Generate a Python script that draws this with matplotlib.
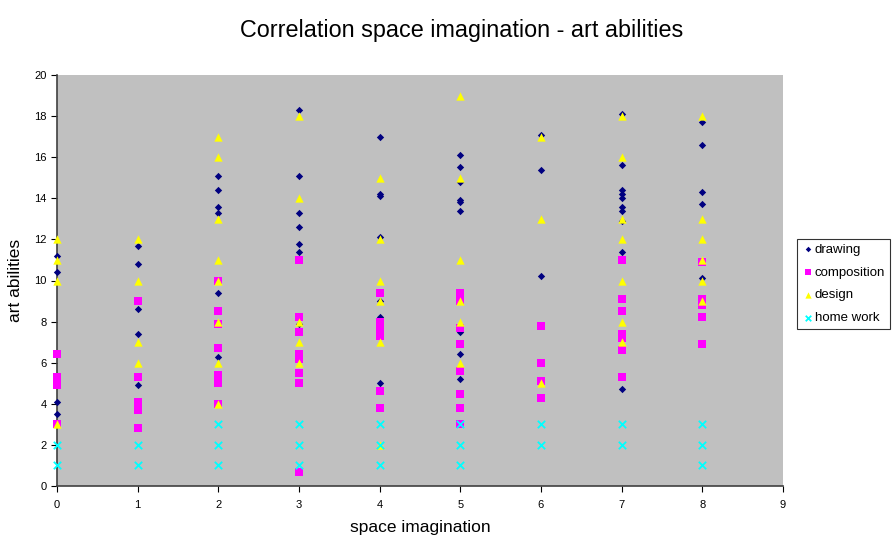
import matplotlib
matplotlib.use("Agg")
import matplotlib.pyplot as plt

plt.rcParams['font.family'] = ['Liberation Sans', 'DejaVu Sans']

# values: (space imagination, art abilities)
drawing_x = [0, 0, 0, 0,
             1, 1, 1, 1, 1,
             2, 2, 2, 2, 2, 2,
             3, 3, 3, 3, 3, 3, 3,
             4, 4, 4, 4, 4, 4, 4,
             5, 5, 5, 5, 5, 5, 5, 5, 5,
             6, 6, 6,
             7, 7, 7, 7, 7, 7, 7, 7, 7, 7,
             8, 8, 8, 8, 8]
drawing_y = [11.2, 10.4, 4.1, 3.5,
             11.7, 10.8, 8.6, 7.4, 4.9,
             15.1, 14.4, 13.6, 13.3, 9.4, 6.3,
             18.3, 15.1, 13.3, 12.6, 11.8, 11.4, 7.9,
             17.0, 14.2, 14.1, 12.1, 9.0, 8.2, 5.0,
             16.1, 15.5, 14.8, 13.9, 13.8, 13.4, 7.5, 6.4, 5.2,
             17.1, 15.4, 10.2,
             18.1, 15.6, 14.4, 14.2, 14.0, 13.6, 13.4, 12.9, 11.4, 4.7,
             17.7, 16.6, 14.3, 13.7, 10.1]

composition_x = [0, 0, 0, 0,
                 1, 1, 1, 1, 1,
                 2, 2, 2, 2, 2, 2, 2, 2,
                 3, 3, 3, 3, 3, 3, 3, 3,
                 4, 4, 4, 4, 4, 4,
                 5, 5, 5, 5, 5, 5, 5, 5,
                 6, 6, 6, 6,
                 7, 7, 7, 7, 7, 7, 7,
                 8, 8, 8, 8, 8]
composition_y = [6.4, 5.3, 4.9, 3.0,
                 9.0, 5.3, 4.1, 3.7, 2.8,
                 10.0, 8.5, 7.9, 6.7, 5.4, 5.2, 5.0, 4.0,
                 11.0, 8.2, 7.5, 6.4, 6.2, 5.5, 5.0, 0.7,
                 9.4, 8.0, 7.7, 7.3, 4.6, 3.8,
                 9.4, 9.0, 7.7, 6.9, 5.6, 4.5, 3.8, 3.0,
                 7.8, 6.0, 5.1, 4.3,
                 11.0, 9.1, 8.5, 7.4, 7.2, 6.6, 5.3,
                 10.9, 9.1, 8.8, 8.2, 6.9]

design_x = [0, 0, 0, 0,
            1, 1, 1, 1,
            2, 2, 2, 2, 2, 2, 2, 2,
            3, 3, 3, 3, 3,
            4, 4, 4, 4, 4, 4,
            5, 5, 5, 5, 5, 5,
            6, 6, 6,
            7, 7, 7, 7, 7, 7, 7,
            8, 8, 8, 8, 8, 8]
design_y = [12, 11, 10, 3,
            12, 10, 7, 6,
            17, 16, 13, 11, 10, 8, 6, 4,
            18, 14, 8, 7, 6,
            15, 12, 10, 9, 7, 2,
            19, 15, 11, 9, 8, 6,
            17, 13, 5,
            18, 16, 13, 12, 10, 8, 7,
            18, 13, 12, 11, 10, 9]

homework_x = [0, 0, 1, 1, 2, 2, 2, 3, 3, 3, 4, 4, 4,
              5, 5, 5, 6, 6, 7, 7, 8, 8, 8]
homework_y = [2, 1, 2, 1, 3, 2, 1, 3, 2, 1, 3, 2, 1,
              3, 2, 1, 3, 2, 3, 2, 3, 2, 1]


def main():
    fig = plt.figure(figsize=(8.92, 5.39), dpi=100)
    ax = fig.add_axes([57 / 892, 1 - 486 / 539, (783 - 57) / 892, (486 - 75) / 539])
    ax.set_facecolor('#C0C0C0')

    ax.scatter(drawing_x, drawing_y, marker='D', s=14, color='#000080',
               linewidths=0, label='drawing', zorder=3, clip_on=False)
    ax.scatter(composition_x, composition_y, marker='s', s=32, color='#FF00FF',
               linewidths=0, label='composition', zorder=4, clip_on=False)
    ax.scatter(design_x, design_y, marker='^', s=36, color='#FFFF00',
               linewidths=0, label='design', zorder=5, clip_on=False)
    ax.scatter(homework_x, homework_y, marker='x', s=28, color='#00FFFF',
               linewidths=1.3, label='home work', zorder=6, clip_on=False)

    ax.set_xlim(0, 9)
    ax.set_ylim(0, 20)
    ax.set_xticks(range(0, 10))
    ax.set_yticks(range(0, 21, 2))
    ax.tick_params(direction='out', length=4, labelsize=8, colors='black')
    ax.tick_params(axis='x', pad=6)
    for side in ['top', 'right']:
        ax.spines[side].set_visible(False)
    for side in ['left', 'bottom']:
        ax.spines[side].set_color('#404040')
        ax.spines[side].set_linewidth(1.2)

    ax.set_xlabel("space imagination", fontsize=12.5, labelpad=7)
    ax.set_ylabel("art abilities", fontsize=12.5, labelpad=8)
    fig.text(462 / 892, 1 - 30 / 539, "Correlation space imagination - art abilities",
             ha='center', va='center', fontsize=16.8)

    leg = ax.legend(loc='upper left', bbox_to_anchor=(797 / 892, 1 - 239 / 539),
                    bbox_transform=fig.transFigure, frameon=True, fancybox=False,
                    edgecolor='black', fontsize=9.5, handletextpad=0.1,
                    handlelength=0.9, borderpad=0.35, labelspacing=0.8,
                    borderaxespad=0, markerscale=0.75)
    leg.get_frame().set_linewidth(0.8)

    fig.savefig("out.png", dpi=100)


if __name__ == "__main__":
    main()
